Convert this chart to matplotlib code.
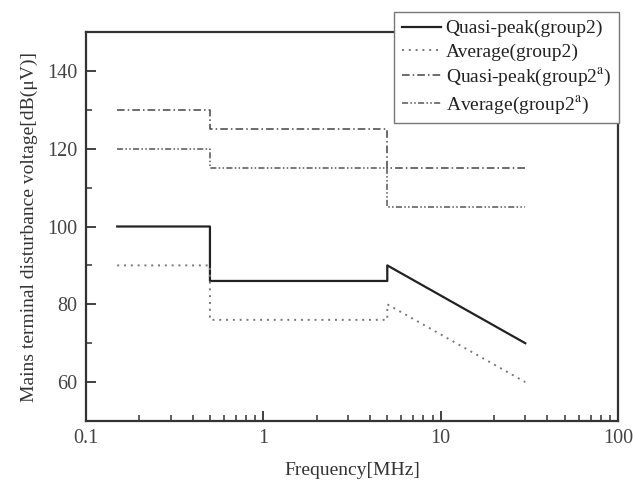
import matplotlib
matplotlib.use("Agg")
import matplotlib.pyplot as plt
import numpy as np
from matplotlib.ticker import MultipleLocator, LogLocator, FixedLocator, FixedFormatter

plt.rcParams['font.family'] = ['Liberation Serif', 'DejaVu Serif']
plt.rcParams['mathtext.fontset'] = 'stix'

freq_qp2 = [0.15, 0.5, 0.5, 5, 5, 30]
qp_group2 = [100, 100, 86, 86, 90, 70]
avg_group2 = [90, 90, 76, 76, 80, 60]
freq_a = [0.15, 0.5, 0.5, 5, 5, 30]
qp_group2a = [130, 130, 125, 125, 115, 115]
avg_group2a = [120, 120, 115, 115, 105, 105]

x_ticks = [0.1, 1, 10, 100]
x_labels = ['0.1', '1', '10', '100']
y_ticks = [60, 80, 100, 120, 140]

fig = plt.figure(figsize=(6.33, 4.82), dpi=100)
ax = fig.add_axes([86/633, 1-421/482, (618-86)/633, (421-32)/482])

ax.plot(freq_qp2, qp_group2, color='#222222', lw=1.6, ls='-', label='Quasi-peak(group2)')
ax.plot(freq_qp2, avg_group2, color='#777777', lw=1.4, ls=(0, (1, 2.5)), label='Average(group2)')
ax.plot(freq_a, qp_group2a, color='#444444', lw=1.1, ls=(0, (5, 2, 1, 2)), label='Quasi-peak(group2$^{\\mathrm{a}}$)')
ax.plot(freq_a, avg_group2a, color='#555555', lw=1.1, ls=(0, (4, 1.5, 1, 1.5, 1, 1.5)), label='Average(group2$^{\\mathrm{a}}$)')

ax.set_xscale('log')
ax.set_xlim(0.1, 100)
ax.set_ylim(50, 150)
ax.xaxis.set_major_locator(FixedLocator(x_ticks))
ax.xaxis.set_major_formatter(FixedFormatter(x_labels))
ax.xaxis.set_minor_locator(LogLocator(base=10, subs=np.arange(2, 10)))
ax.xaxis.set_minor_formatter(FixedFormatter([]))
ax.yaxis.set_major_locator(FixedLocator(y_ticks))
ax.yaxis.set_minor_locator(MultipleLocator(10))

ax.tick_params(which='both', direction='in', labelsize=14.5, colors='#333333', labelcolor='#444444')
ax.tick_params(which='major', length=7, width=1.3)
ax.tick_params(which='minor', length=4, width=1.1)
ax.tick_params(axis='x', pad=6)
ax.tick_params(axis='y', pad=6)
for s in ax.spines.values():
    s.set_linewidth(1.6)
    s.set_color('#333333')

ax.set_xlabel('Frequency[MHz]', fontsize=14, color='#333333', labelpad=10)
ax.set_ylabel('Mains terminal disturbance voltage[dB(μV)]', fontsize=14, color='#333333', labelpad=7)

leg = fig.legend(loc='upper right', bbox_to_anchor=(619/633, 1-12/482), fontsize=14,
                 frameon=True, fancybox=False, edgecolor='#777777', framealpha=1,
                 handlelength=2.0, handletextpad=0.25, borderpad=0.4, labelspacing=0.3,
                 borderaxespad=0)
leg.get_frame().set_linewidth(1.0)
for t in leg.get_texts():
    t.set_color('#222222')

fig.savefig('out.png', dpi=100)
